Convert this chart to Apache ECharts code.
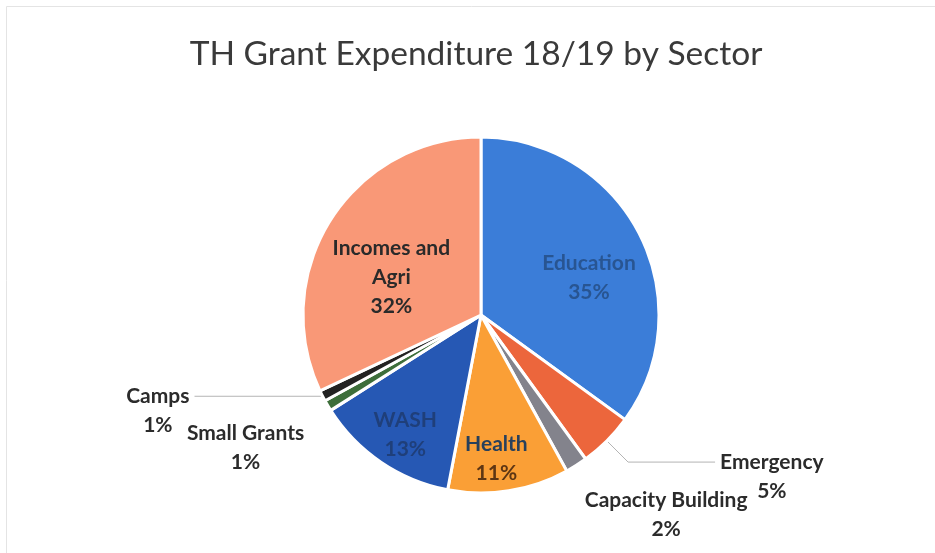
<!DOCTYPE html>
<html>
<head>
<meta charset="utf-8">
<script src="https://cdn.jsdelivr.net/npm/echarts@6/dist/echarts.min.js"></script>
<style>
  html, body { margin: 0; padding: 0; background: #ffffff; }
  #chart { width: 935px; height: 553px; }
</style>
</head>
<body>
<div id="chart"></div>
<script>
// Sector shares of the 18/19 grant expenditure (per cent), clockwise from 12 o'clock
const sectors = ['Education', 'Emergency', 'Capacity Building', 'Health', 'WASH', 'Small Grants', 'Camps', 'Incomes and Agri'];
const shares = [35, 5, 2, 11, 13, 1, 1, 32];
const titleText = 'TH Grant Expenditure 18/19 by Sector';

// Slice colours
const sliceColors = ['#3b7dd8', '#ec663c', '#83838c', '#fa9f36', '#2658b4', '#3d6e3a', '#222222', '#f99877'];

// How each label is drawn: inside the slice, outside with a leader line, or outside without one
const labelMode = {
  'Education': 'inside', 'Incomes and Agri': 'inside', 'WASH': 'inside', 'Health': 'inside',
  'Camps': 'line', 'Emergency': 'line',
  'Small Grants': 'plain', 'Capacity Building': 'plain'
};

// Nudges applied to the default label placement (px)
const labelNudge = {
  'Education': [26, 5],
  'Incomes and Agri': [-12, 12],
  'WASH': [-24, 44],
  'Health': [1, 53],
  'Small Grants': [0, 37],
  'Capacity Building': [-12, 41]
};

const LABEL_FONT = 'Lato, "Noto Sans", sans-serif';
const LABEL_SIZE = 21;
const LABEL_LINE = 29;

function richStyle(color) {
  return { fontFamily: LABEL_FONT, fontWeight: 'bold', fontSize: LABEL_SIZE, lineHeight: LABEL_LINE, color: color, align: 'center' };
}

function labelFor(name) {
  const mode = labelMode[name];
  const base = {
    fontFamily: LABEL_FONT,
    fontWeight: 'bold',
    fontSize: LABEL_SIZE,
    lineHeight: LABEL_LINE,
    color: '#2b2b2b'
  };
  if (mode === 'inside') {
    const txt = {
      'Education': '{a|Education}\n{a|{d}%}',
      'Incomes and Agri': '{a|Incomes and}\n{a|Agri}\n{a|{d}%}',
      'WASH': '{a|WASH}\n{a|{d}%}',
      'Health': '{a|Health}\n{b|{d}%}'
    }[name];
    const col = {
      'Education': '#285592',
      'Incomes and Agri': '#2a2a2a',
      'WASH': '#1f3f7a',
      'Health': '#27405c'
    }[name];
    return Object.assign(base, {
      position: 'inside',
      formatter: txt,
      rich: { a: richStyle(col), b: richStyle('#5e3614') }
    });
  }
  // Outside labels: an empty first line lets the leader line meet the name line
  const lead = mode === 'line' ? '{a|}\n' : '';
  return Object.assign(base, {
    position: 'outside',
    formatter: lead + '{a|' + name + '}\n{a|{d}%}',
    rich: { a: richStyle('#2b2b2b') }
  });
}

function lineFor(name) {
  const mode = labelMode[name];
  if (mode === 'inside') return { show: false };
  if (mode === 'plain') return { show: true, length: 10, length2: 10, lineStyle: { opacity: 0 } };
  if (name === 'Camps') return { show: true, length: 1, length2: 127, lineStyle: { color: '#b4b4b4', width: 1 } };
  return { show: true, length: 30, length2: 87, lineStyle: { color: '#b4b4b4', width: 1 } };
}

const pieData = sectors.map((name, i) => ({
  name: name,
  value: shares[i],
  itemStyle: { color: sliceColors[i] },
  label: labelFor(name),
  labelLine: lineFor(name)
}));

const chart = echarts.init(document.getElementById('chart'), null, { renderer: 'canvas' });

chart.setOption({
  backgroundColor: '#ffffff',
  animation: false,
  title: {
    text: titleText,
    left: 471,
    top: 32,
    textAlign: 'center',
    textStyle: {
      fontFamily: 'Lato, "Noto Sans", sans-serif',
      fontWeight: 'normal',
      fontSize: 33.5,
      color: '#3a3a3a'
    }
  },
  graphic: [{
    type: 'rect',
    shape: { x: 6.5, y: 6.5, width: 940, height: 560 },
    style: { fill: 'none', stroke: '#e4e4e4', lineWidth: 1 },
    silent: true
  }],
  series: [{
    type: 'pie',
    center: [481, 315],
    radius: 178,
    startAngle: 90,
    clockwise: true,
    avoidLabelOverlap: false,
    itemStyle: { borderColor: '#ffffff', borderWidth: 3 },
    emphasis: { disabled: true },
    label: { distanceToLabelLine: 5 },
    labelLayout: function (params) {
      const name = sectors[params.dataIndex];
      const n = labelNudge[name];
      return n ? { dx: n[0], dy: n[1] } : {};
    },
    data: pieData
  }]
});
</script>
</body>
</html>
